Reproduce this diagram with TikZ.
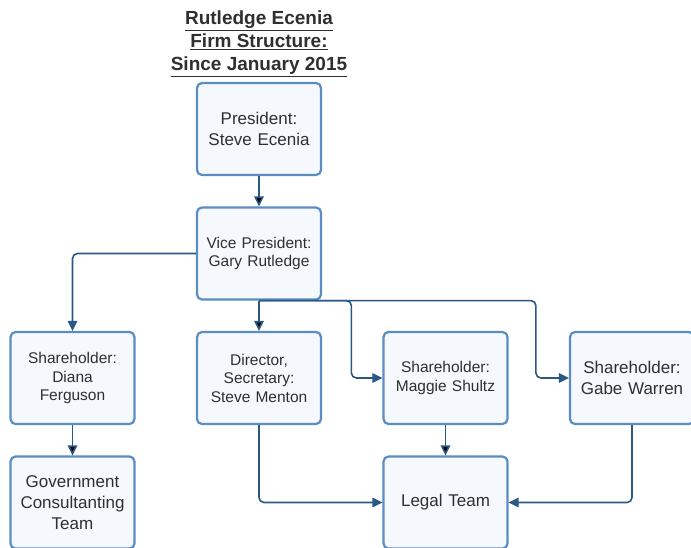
\documentclass[tikz,border=0pt]{standalone}
\usepackage{fontspec}
\setmainfont{Liberation Sans}
\usetikzlibrary{positioning,arrows.meta}
\definecolor{boxline}{HTML}{5B8CC2}
\definecolor{boxfill}{HTML}{F5F9FE}
\definecolor{linkblue}{HTML}{2A5885}
\definecolor{txt}{HTML}{2F2F2F}
\tikzset{
  role/.style={draw=boxline,fill=boxfill,line width=2.2pt,rounded corners=5pt,
    minimum width=124pt,minimum height=92pt,text width=120pt,align=center,
    inner sep=0pt,text=txt,font=\fontsize{17}{21}\selectfont},
  small/.style={font=\fontsize{15.5}{18.5}\selectfont},
  link/.style={draw=linkblue,line width=1.6pt,rounded corners=5pt,
    -{Triangle[length=10pt,width=9.5pt]}},
  node distance=30.3pt and 60.3pt
}
\begin{document}
\begin{tikzpicture}
    \useasboundingbox (0pt,0pt) rectangle (691pt,-548pt);
    \node[align=center,text=txt,font=\bfseries\fontsize{19}{23}\selectfont] (title) at (259pt,-44pt)
      {\underline{Rutledge Ecenia}\\\underline{Firm Structure:}\\\underline{Since January 2015}};
    \node[role] (pres) at (259pt,-129pt) {President:\\Steve Ecenia};
    \node[role,small] (vp) [below=of pres] {Vice President:\\Gary Rutledge};
    \node[role,small] (dir) [below=of vp] {Director,\\Secretary:\\Steve Menton};
    \node[role,small] (diana) [left=of dir] {Shareholder:\\Diana\\Ferguson};
    \node[role,small] (maggie) [right=of dir] {Shareholder:\\Maggie Shultz};
    \node[role] (gabe) [right=of maggie] {Shareholder:\\Gabe Warren};
    \node[role] (gov) [below=of diana] {Government\\Consultanting\\Team};
    \node[role] (legal) [below=of maggie] {Legal Team};
    \coordinate[left=31pt of maggie.west] (mjog);
    \coordinate[left=33pt of gabe.west] (gjog);
    \path[link]
    (pres) edge (vp)
    (vp) edge (dir)
    (diana) edge (gov)
    (maggie) edge (legal)
    ;
    \draw[link] (vp.west) -| (diana);
    \draw[link] (vp.south) -| (mjog) -- (maggie);
    \draw[link] (vp.south) -| (gjog) -- (gabe);
    \draw[link] (dir.south) |- (legal);
    \draw[link] (gabe.south) |- (legal);
\end{tikzpicture}
\end{document}
